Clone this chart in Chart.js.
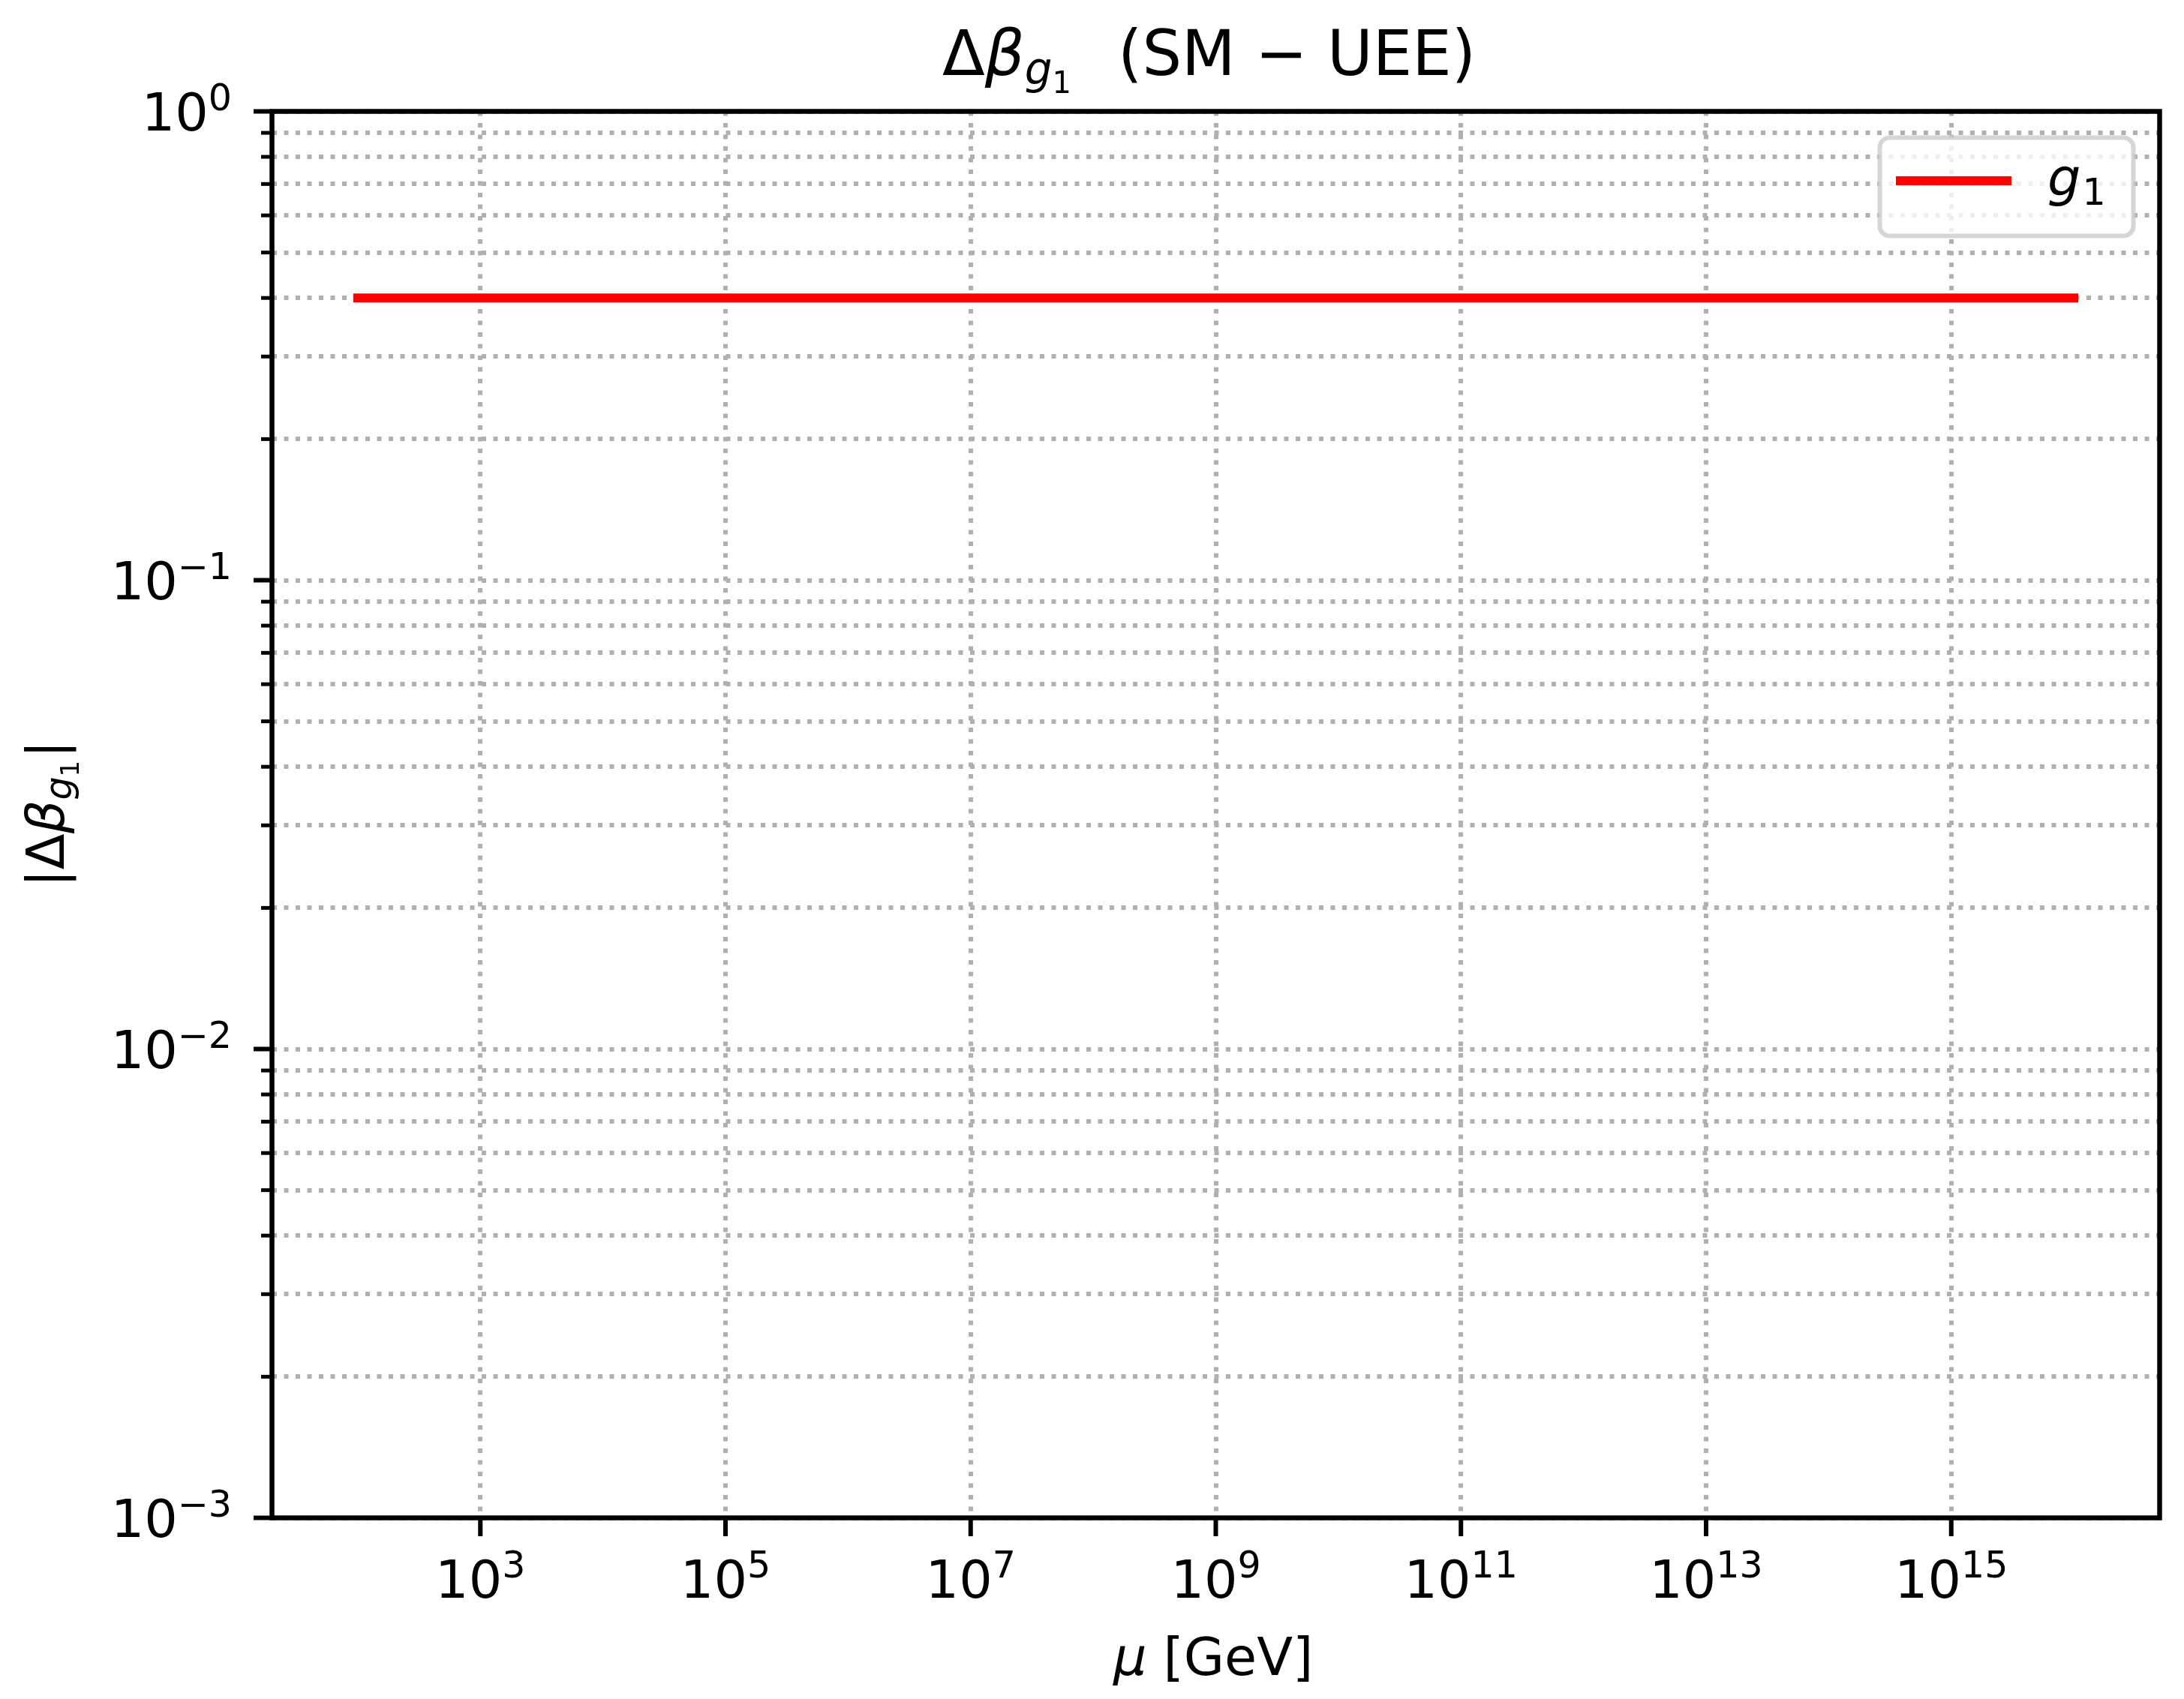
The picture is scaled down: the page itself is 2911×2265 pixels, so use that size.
<!DOCTYPE html>
<html>
<head>
<meta charset="utf-8">
<script src="https://cdn.jsdelivr.net/npm/chart.js@4.4.1/dist/chart.umd.min.js"></script>
<style>
  html, body { margin: 0; padding: 0; background: #ffffff; }
  canvas { display: block; }
</style>
</head>
<body>
<canvas id="c" width="2911" height="2265" style="width:2911px;height:2265px"></canvas>
<script>
// ---------------- data ----------------
const muGeV = [1e2, 1e3, 1e4, 1e5, 1e6, 1e7, 1e8, 1e9, 1e10, 1e11, 1e12, 1e13, 1e14, 1e15, 1e16];
const deltaBetaG1 = [0.4, 0.4, 0.4, 0.4, 0.4, 0.4, 0.4, 0.4, 0.4, 0.4, 0.4, 0.4, 0.4, 0.4, 0.4];

const xTickValues = [1e3, 1e5, 1e7, 1e9, 1e11, 1e13, 1e15];
const xTickExponents = ['3', '5', '7', '9', '11', '13', '15'];

const yMajorTickValues = [1e-3, 1e-2, 1e-1, 1e0];
const yMajorTickExponents = ['\u22123', '\u22122', '\u22121', '0'];
const yMinorTickValues = [
  2e-3, 3e-3, 4e-3, 5e-3, 6e-3, 7e-3, 8e-3, 9e-3,
  2e-2, 3e-2, 4e-2, 5e-2, 6e-2, 7e-2, 8e-2, 9e-2,
  2e-1, 3e-1, 4e-1, 5e-1, 6e-1, 7e-1, 8e-1, 9e-1
];

const xAxisMin = Math.pow(10, 1.3);
const xAxisMax = Math.pow(10, 16.7);
const yAxisMin = 1e-3;
const yAxisMax = 1e0;

// ---------------- styles ----------------
const FONT_FAMILY = "'DejaVu Sans'";
const RED = '#ff0000';
const GRID = '#b0b0b0';

function fontStr(size, italic) {
  return (italic ? 'italic ' : '') + size + 'px ' + FONT_FAMILY;
}
function runsWidth(ctx, runs) {
  let w = 0;
  for (const r of runs) {
    ctx.font = fontStr(r.size, r.italic);
    w += (r.dx || 0) + ctx.measureText(r.t).width;
  }
  return w;
}
function drawRuns(ctx, runs, x, y) {
  let cx = x;
  ctx.textAlign = 'left';
  ctx.textBaseline = 'alphabetic';
  for (const r of runs) {
    ctx.font = fontStr(r.size, r.italic);
    cx += (r.dx || 0);
    ctx.fillText(r.t, cx, y + (r.dy || 0));
    cx += ctx.measureText(r.t).width;
  }
  return cx - x;
}
function powRuns(exp) {
  return [{ t: '10', size: 70 }, { t: exp, size: 49, dy: -27 }];
}

const decorPlugin = {
  id: 'decor',
  afterDraw(chart) {
    const ctx = chart.ctx;
    const area = chart.chartArea;
    const xs = chart.scales.x;
    const ys = chart.scales.y;
    ctx.save();
    ctx.fillStyle = '#000000';
    ctx.strokeStyle = '#000000';

    // frame (all four spines)
    ctx.lineWidth = 6.5;
    ctx.lineCap = 'square';
    ctx.strokeRect(area.left, area.top, area.right - area.left, area.bottom - area.top);

    // ticks
    ctx.lineCap = 'butt';
    ctx.lineWidth = 6;
    xTickValues.forEach(v => {
      const px = xs.getPixelForValue(v);
      ctx.beginPath();
      ctx.moveTo(px, area.bottom);
      ctx.lineTo(px, area.bottom + 24.5);
      ctx.stroke();
    });
    yMajorTickValues.forEach(v => {
      const py = ys.getPixelForValue(v);
      ctx.beginPath();
      ctx.moveTo(area.left, py);
      ctx.lineTo(area.left - 24.5, py);
      ctx.stroke();
    });
    ctx.lineWidth = 5;
    yMinorTickValues.forEach(v => {
      const py = ys.getPixelForValue(v);
      ctx.beginPath();
      ctx.moveTo(area.left, py);
      ctx.lineTo(area.left - 14.5, py);
      ctx.stroke();
    });

    // x tick labels
    xTickValues.forEach((v, i) => {
      const px = xs.getPixelForValue(v);
      const runs = powRuns(xTickExponents[i]);
      const w = runsWidth(ctx, runs);
      drawRuns(ctx, runs, px - w / 2, area.bottom + 106.5);
    });
    // y tick labels
    yMajorTickValues.forEach((v, i) => {
      const py = ys.getPixelForValue(v);
      const runs = powRuns(yMajorTickExponents[i]);
      const w = runsWidth(ctx, runs);
      drawRuns(ctx, runs, 309 - w, py + 25);
    });

    // x-axis label
    drawRuns(ctx, [
      { t: '\u03bc', size: 70, italic: true },
      { t: '[GeV]', size: 70, dx: 22 }
    ], 1484, 2233);

    // y-axis label (rotated)
    const yRuns = [
      { t: '|', size: 70 },
      { t: '\u0394', size: 70 },
      { t: '\u03b2', size: 70, italic: true },
      { t: 'g', size: 49, italic: true, dy: 10 },
      { t: '1', size: 34, dy: 20 },
      { t: '|', size: 70, dx: 3 }
    ];
    ctx.save();
    ctx.translate(85, 1085);
    ctx.rotate(-Math.PI / 2);
    const yw = runsWidth(ctx, yRuns);
    drawRuns(ctx, yRuns, -yw / 2, 0);
    ctx.restore();

    // title
    drawRuns(ctx, [
      { t: '\u0394', size: 83 },
      { t: '\u03b2', size: 83, italic: true },
      { t: 'g', size: 58, italic: true, dy: 12 },
      { t: '1', size: 40, dy: 24 }
    ], 1256, 100);
    drawRuns(ctx, [{ t: '(SM \u2212 UEE)', size: 83 }], 1490, 100);

    // legend
    const lx = 2505.5, ly = 183.5, lw = 338, lh = 131, r = 13;
    ctx.beginPath();
    ctx.moveTo(lx + r, ly);
    ctx.lineTo(lx + lw - r, ly);
    ctx.arcTo(lx + lw, ly, lx + lw, ly + r, r);
    ctx.lineTo(lx + lw, ly + lh - r);
    ctx.arcTo(lx + lw, ly + lh, lx + lw - r, ly + lh, r);
    ctx.lineTo(lx + r, ly + lh);
    ctx.arcTo(lx, ly + lh, lx, ly + lh - r, r);
    ctx.lineTo(lx, ly + r);
    ctx.arcTo(lx, ly, lx + r, ly, r);
    ctx.closePath();
    ctx.fillStyle = 'rgba(255,255,255,0.8)';
    ctx.fill();
    ctx.lineWidth = 6;
    ctx.strokeStyle = 'rgba(204,204,204,0.8)';
    ctx.stroke();

    ctx.strokeStyle = RED;
    ctx.lineWidth = 12;
    ctx.lineCap = 'square';
    ctx.beginPath();
    ctx.moveTo(2533, 241);
    ctx.lineTo(2675, 241);
    ctx.stroke();

    ctx.fillStyle = '#000000';
    drawRuns(ctx, [
      { t: 'g', size: 70, italic: true },
      { t: '1', size: 49, dy: 12, dx: 2 }
    ], 2729, 261);

    ctx.restore();
  }
};

const ctx = document.getElementById('c').getContext('2d');
new Chart(ctx, {
  type: 'line',
  data: {
    datasets: [{
      label: 'g1',
      data: muGeV.map((x, i) => ({ x: x, y: deltaBetaG1[i] })),
      borderColor: RED,
      backgroundColor: RED,
      borderWidth: 12,
      borderCapStyle: 'square',
      pointRadius: 0,
      pointHoverRadius: 0,
      tension: 0,
      fill: false
    }]
  },
  options: {
    responsive: false,
    devicePixelRatio: 1,
    animation: false,
    events: [],
    layout: { padding: { left: 362.5, top: 148.5, right: 32.5, bottom: 241.5 } },
    plugins: {
      legend: { display: false },
      title: { display: false },
      tooltip: { enabled: false }
    },
    scales: {
      x: {
        type: 'logarithmic',
        min: xAxisMin,
        max: xAxisMax,
        afterBuildTicks(scale) {
          scale.ticks = xTickValues.map(v => ({ value: v }));
        },
        ticks: { display: false },
        grid: { color: GRID, lineWidth: 6, drawTicks: false },
        border: { display: false, dash: [6, 9.5] },
        title: { display: false }
      },
      y: {
        type: 'logarithmic',
        min: yAxisMin,
        max: yAxisMax,
        afterBuildTicks(scale) {
          scale.ticks = yMajorTickValues.concat(yMinorTickValues)
            .sort((a, b) => a - b)
            .map(v => ({ value: v }));
        },
        ticks: { display: false },
        grid: { color: GRID, lineWidth: 6, drawTicks: false },
        border: { display: false, dash: [6, 9.5] },
        title: { display: false }
      }
    }
  },
  plugins: [decorPlugin]
});
</script>
</body>
</html>
